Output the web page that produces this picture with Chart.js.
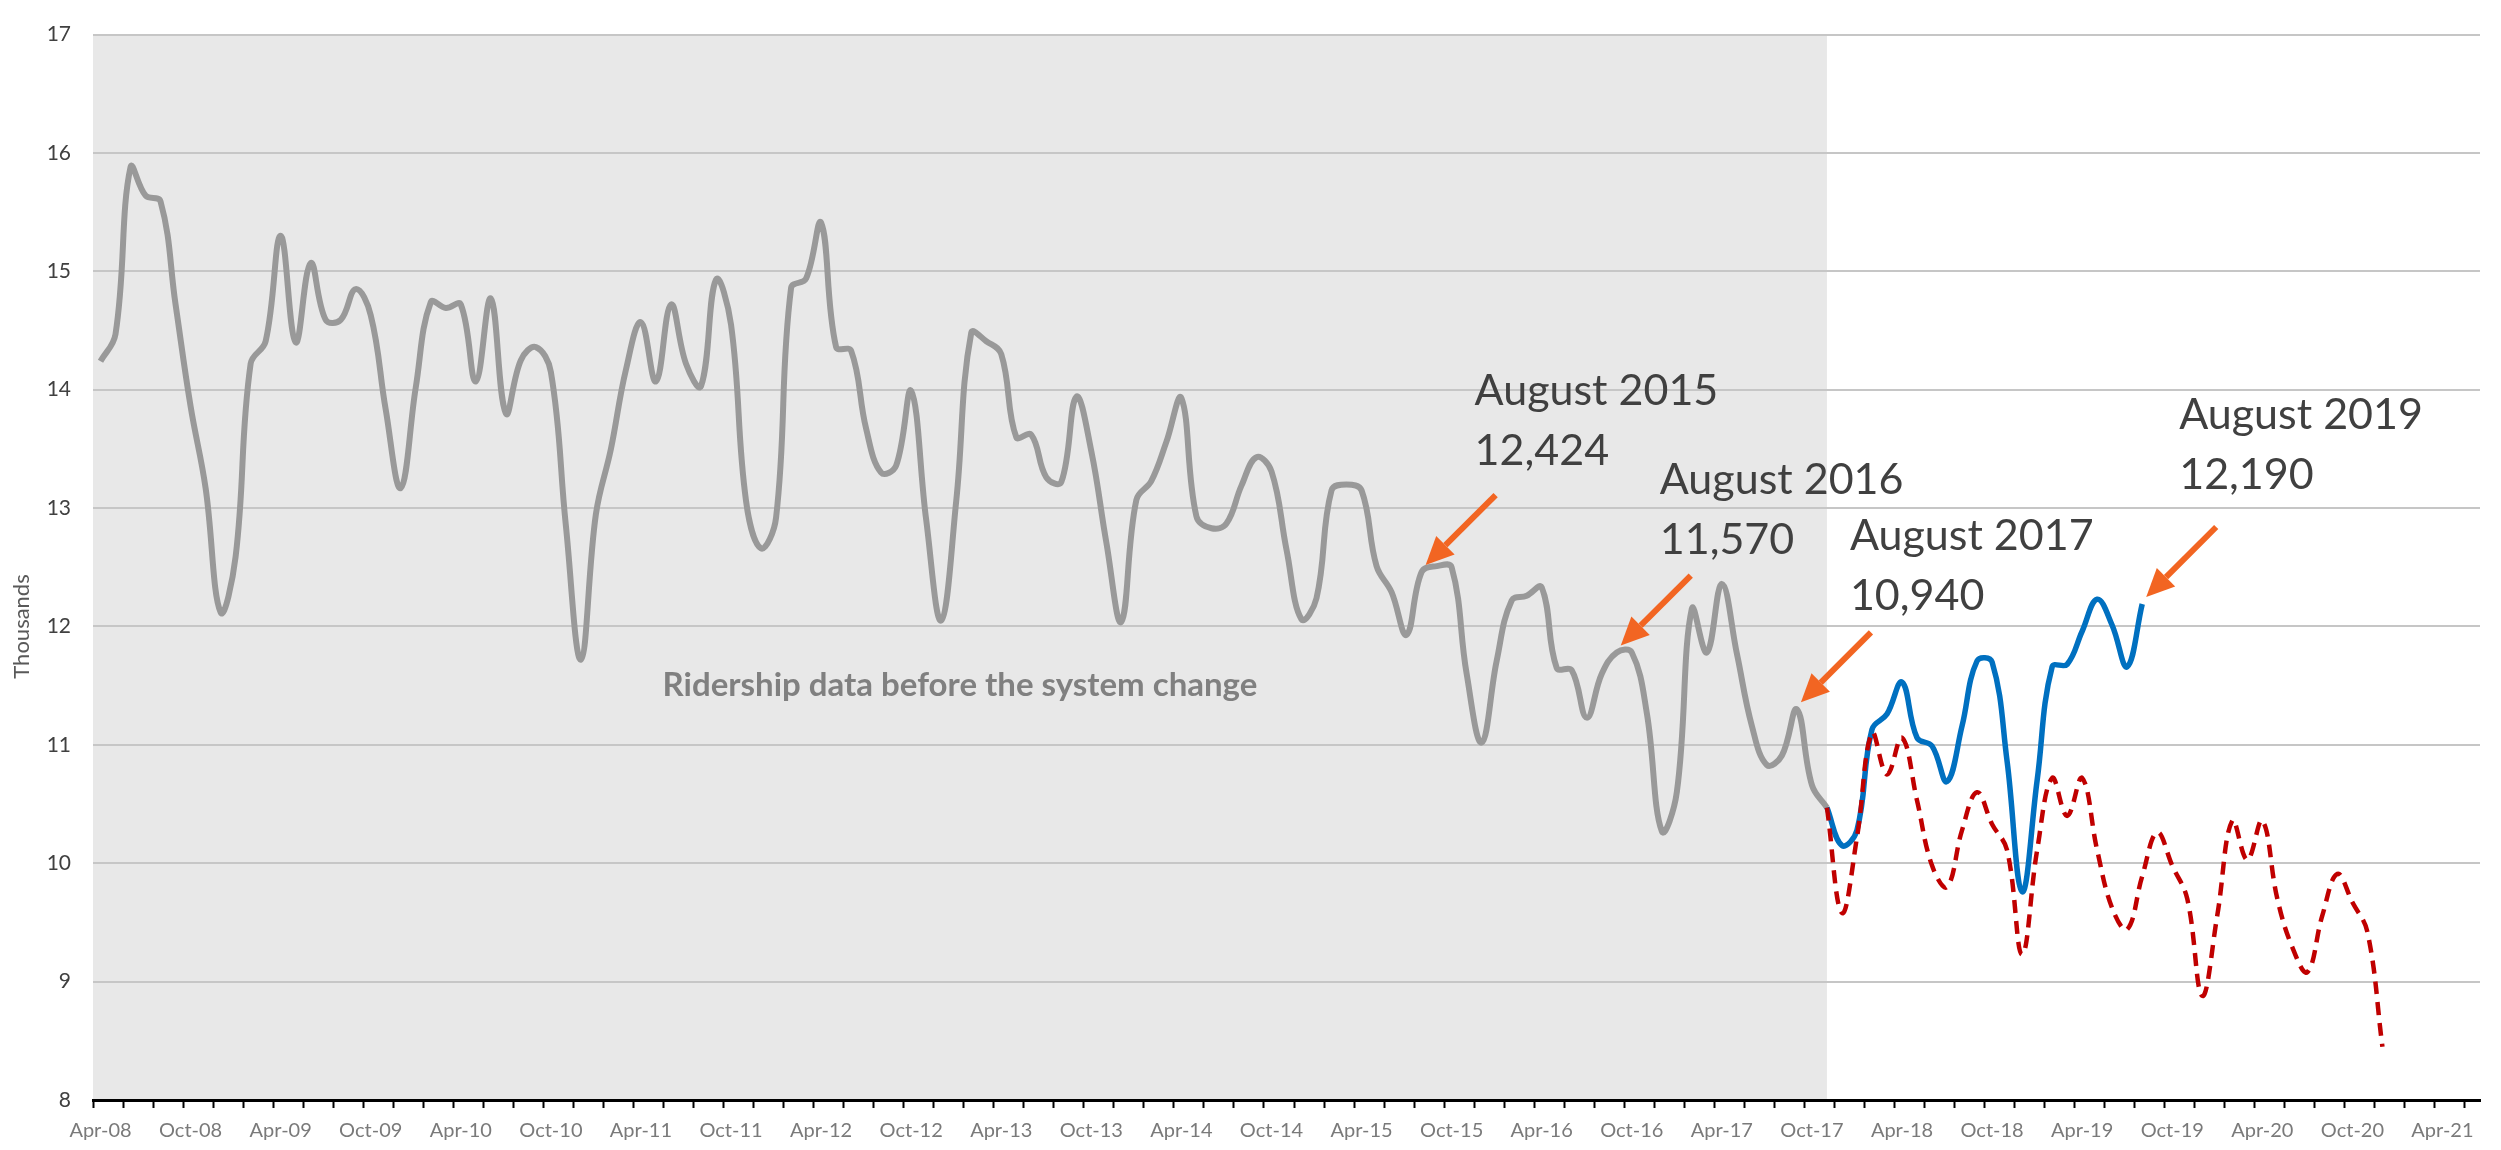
<!DOCTYPE html>
<html>
<head>
<meta charset="utf-8">
<title>Ridership</title>
<script src="https://cdn.jsdelivr.net/npm/chart.js@4.4.1/dist/chart.umd.min.js"></script>
<style>
  html, body { margin: 0; padding: 0; background: #fff; }
  #wrap { width: 2501px; height: 1150px; }
</style>
</head>
<body>
<div id="wrap"><canvas id="ridershipChart" width="2501" height="1150"></canvas></div>
<script>
// monthly ridership, in thousands
const monthNames = ["Jan", "Feb", "Mar", "Apr", "May", "Jun", "Jul", "Aug", "Sep", "Oct", "Nov", "Dec"];
const firstYear = 2008;
const firstMonth = 3;     // Apr
const monthCount = 159;   // Apr-08 .. Jun-21

const tickLabels = [
  "Apr-08", "Oct-08", "Apr-09", "Oct-09", "Apr-10", "Oct-10", "Apr-11", "Oct-11", "Apr-12",
  "Oct-12", "Apr-13", "Oct-13", "Apr-14", "Oct-14", "Apr-15", "Oct-15", "Apr-16", "Oct-16",
  "Apr-17", "Oct-17", "Apr-18", "Oct-18", "Apr-19", "Oct-19", "Apr-20", "Oct-20", "Apr-21"
];

// old counting system, Apr-08 .. Nov-17
const oldSystem = [
  14.24, 14.47, 15.88, 15.64, 15.59, 14.72, 13.86, 13.17, 12.12, 12.59, 14.22, 14.41,
  15.30, 14.40, 15.07, 14.59, 14.59, 14.85, 14.63, 13.83, 13.17, 14.02, 14.74, 14.69,
  14.72, 14.07, 14.77, 13.80, 14.25, 14.36, 14.15, 12.85, 11.72, 12.95, 13.50, 14.17,
  14.57, 14.07, 14.72, 14.22, 14.03, 14.93, 14.55, 13.06, 12.66, 12.92, 14.86, 14.94,
  15.41, 14.36, 14.33, 13.67, 13.30, 13.36, 13.99, 12.90, 12.05, 13.06, 14.48, 14.41,
  14.30, 13.60, 13.62, 13.26, 13.22, 13.94, 13.48, 12.71, 12.04, 13.07, 13.23, 13.56,
  13.93, 12.93, 12.83, 12.87, 13.19, 13.43, 13.31, 12.65, 12.06, 12.24, 13.15, 13.20,
  13.15, 12.51, 12.29, 11.93, 12.46, 12.51, 12.50, 11.60, 11.02, 11.71, 12.22, 12.26,
  12.33, 11.65, 11.63, 11.23, 11.60, 11.78, 11.78, 11.27, 10.27, 10.60, 12.15, 11.78,
  12.36, 11.77, 11.16, 10.83, 10.91, 11.30, 10.66, 10.47
];

const changeMonth = "Nov-17";

// new system, Nov-17 .. Aug-19
const newSystem = [
  10.47, 10.15, 10.28, 11.13, 11.26, 11.53, 11.06, 10.99, 10.69, 11.16, 11.71, 11.70,
  10.86, 9.76, 10.70, 11.66, 11.68, 11.96, 12.23, 12.01, 11.66, 12.19
];

// comparable series (dashed), Nov-17 .. Dec-20
const comparable = [
  10.47, 9.58, 10.22, 11.10, 10.75, 11.06, 10.53, 9.98, 9.80, 10.28, 10.60, 10.33,
  10.11, 9.23, 10.11, 10.72, 10.40, 10.72, 10.11, 9.62, 9.44, 9.89, 10.26, 9.98,
  9.70, 8.88, 9.56, 10.36, 10.03, 10.36, 9.70, 9.29, 9.08, 9.56, 9.91, 9.67,
  9.42, 8.45
];

const shadeText = "Ridership data before the system change";
const shadeTextValue = 11.5;

const noteTitles = ["August 2015", "August 2016", "August 2017", "August 2019"];
const noteNumbers = ["12,424", "11,570", "10,940", "12,190"];
const noteAnchors = ["Aug-15", "Sep-16", "Sep-17", "Aug-19"];
const noteSeries = ["old", "old", "old", "new"];

// small hand placement of the label blocks (px)
const noteNudgeX = [6, -4, 6, -10];
const noteNudgeY = [-8, 0, 0, -16];

// ---- build categories / padded series ----
const categories = [];
for (let k = 0; k < monthCount; k++) {
  const m = (firstMonth + k) % 12;
  const yr = firstYear + Math.floor((firstMonth + k) / 12);
  categories.push(monthNames[m] + "-" + String(yr).slice(2));
}

function placeAt(values, startLabel) {
  const start = categories.indexOf(startLabel);
  const out = new Array(categories.length).fill(null);
  values.forEach((v, k) => { out[start + k] = v; });
  return out;
}

const oldData = placeAt(oldSystem, "Apr-08");
const newData = placeAt(newSystem, changeMonth);
const compData = placeAt(comparable, changeMonth);

function drawArrow(ctx, x0, y0, x1, y1) {
  const ang = Math.atan2(y1 - y0, x1 - x0);
  const head = 28, half = 13;
  const bx = x1 - head * Math.cos(ang);
  const by = y1 - head * Math.sin(ang);
  ctx.save();
  ctx.strokeStyle = "#f26522";
  ctx.fillStyle = "#f26522";
  ctx.lineWidth = 6;
  ctx.beginPath();
  ctx.moveTo(x0, y0);
  ctx.lineTo(bx, by);
  ctx.stroke();
  ctx.beginPath();
  ctx.moveTo(x1, y1);
  ctx.lineTo(bx + half * Math.sin(ang), by - half * Math.cos(ang));
  ctx.lineTo(bx - half * Math.sin(ang), by + half * Math.cos(ang));
  ctx.closePath();
  ctx.fill();
  ctx.restore();
}

// grey band behind the old-system period
const shadePlugin = {
  id: "shade",
  beforeDraw(chart) {
    const { ctx, chartArea: a, scales: { x } } = chart;
    const xEnd = x.getPixelForValue(categories.indexOf(changeMonth));
    ctx.save();
    ctx.fillStyle = "#e8e8e8";
    ctx.fillRect(a.left, a.top, xEnd - a.left, a.bottom - a.top);
    ctx.restore();
  }
};

const notesPlugin = {
  id: "notes",
  afterDraw(chart) {
    const { ctx, chartArea: a, scales: { x, y } } = chart;

    // band caption
    const xEnd = x.getPixelForValue(categories.indexOf(changeMonth));
    ctx.save();
    ctx.fillStyle = "#808080";
    ctx.font = "bold 33px Lato";
    ctx.textAlign = "center";
    ctx.textBaseline = "middle";
    ctx.fillText(shadeText, (a.left + xEnd) / 2, y.getPixelForValue(shadeTextValue));

    // y axis title
    ctx.translate(22, y.getPixelForValue(12));
    ctx.rotate(-Math.PI / 2);
    ctx.fillStyle = "#595959";
    ctx.font = "22px Lato";
    ctx.fillText("Thousands", 0, 0);
    ctx.restore();

    // arrows + labels
    noteTitles.forEach((title, k) => {
      const idx = categories.indexOf(noteAnchors[k]);
      const series = noteSeries[k] === "new" ? newData : oldData;
      const px = x.getPixelForValue(idx) + 4;
      const py = y.getPixelForValue(series[idx]) - 7;
      drawArrow(ctx, px + 70, py - 70, px, py);
      const tx = px + 43 + noteNudgeX[k];
      const ty = py + noteNudgeY[k];
      ctx.save();
      ctx.fillStyle = "#404040";
      ctx.font = "43px Lato";
      ctx.textAlign = "left";
      ctx.textBaseline = "alphabetic";
      ctx.fillText(title, tx, ty - 152);
      ctx.fillText(noteNumbers[k], tx, ty - 92);
      ctx.restore();
    });
  }
};

Chart.defaults.font.family = "Lato";

new Chart(document.getElementById("ridershipChart"), {
  type: "line",
  data: {
    labels: categories,
    datasets: [
      {
        label: "Comparable",
        data: compData,
        borderColor: "#c00000",
        borderWidth: 4.5,
        borderDash: [13, 8],
        pointRadius: 0,
        tension: 0.4,
        fill: false,
        order: 0
      },
      {
        label: "New system",
        data: newData,
        borderColor: "#0070c0",
        borderWidth: 5.5,
        pointRadius: 0,
        tension: 0.4,
        fill: false,
        order: 1
      },
      {
        label: "Old system",
        data: oldData,
        borderColor: "#999999",
        borderWidth: 6,
        pointRadius: 0,
        tension: 0.4,
        fill: false,
        order: 2
      }
    ]
  },
  options: {
    responsive: false,
    animation: false,
    devicePixelRatio: 1,
    layout: { padding: { top: 14, right: 21, left: 0, bottom: 0 } },
    plugins: {
      legend: { display: false },
      tooltip: { enabled: false }
    },
    scales: {
      x: {
        type: "category",
        offset: true,
        afterFit: s => { s.height = 50; },
        grid: {
          offset: true,
          drawOnChartArea: false,
          drawTicks: true,
          tickLength: 8,
          tickWidth: 2,
          tickColor: c => (c.index % 2 === 0 ? "#000" : "rgba(0,0,0,0)")
        },
        border: { display: true, color: "#000", width: 3 },
        ticks: {
          autoSkip: false,
          maxRotation: 0,
          minRotation: 0,
          padding: 11,
          color: "#7a7a7a",
          font: { size: 20 },
          callback: (v, i) => (tickLabels.includes(categories[i]) ? categories[i] : "")
        }
      },
      y: {
        min: 8,
        max: 17,
        afterFit: s => { s.width = 93; },
        grid: { color: "#c6c6c6", lineWidth: 2, drawTicks: false },
        border: { display: false },
        ticks: {
          stepSize: 1,
          padding: 22,
          color: "#404040",
          font: { size: 21 }
        }
      }
    }
  },
  plugins: [shadePlugin, notesPlugin]
});
</script>
</body>
</html>
